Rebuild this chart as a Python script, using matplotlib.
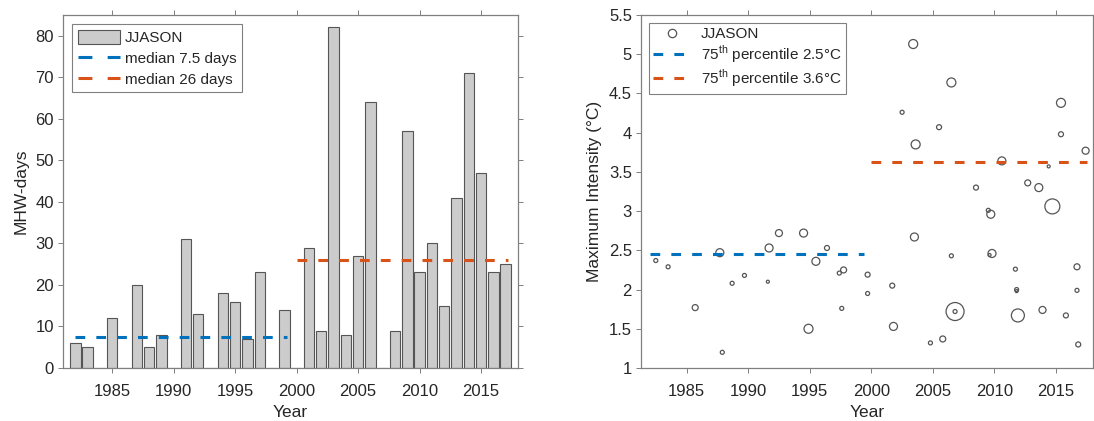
import numpy as np
import matplotlib
matplotlib.use('Agg')
import matplotlib.pyplot as plt
from matplotlib.patches import Patch
from matplotlib.lines import Line2D
from matplotlib.ticker import FormatStrFormatter

# MHW-days per year (JJASON)
years = np.arange(1982, 2018)
mhw_days = [6, 5, 0, 12, 0, 20, 5, 8, 0, 31, 13, 0, 18, 16, 7, 23, 0, 14,
            0, 29, 9, 82, 8, 27, 64, 0, 9, 57, 23, 30, 15, 41, 71, 47, 23, 25]

# individual events: time, max intensity, marker diameter (px)
event_time = [1982.5, 1983.5, 1985.7, 1987.7, 1987.9, 1988.7, 1989.7, 1991.6, 1991.7,
              1992.5, 1994.5, 1994.9, 1995.5, 1996.4, 1997.4, 1997.75, 1997.6, 1999.7,
              1999.7, 2001.7, 2001.8, 2002.5, 2003.4, 2003.6, 2003.5, 2004.8, 2005.5,
              2005.8, 2006.5, 2006.5, 2006.8, 2006.8, 2008.5, 2009.5, 2009.7, 2009.6,
              2009.8, 2010.6, 2011.7, 2011.8, 2011.8, 2011.9, 2012.7, 2013.6, 2013.9,
              2014.4, 2014.7, 2015.4, 2015.4, 2015.8, 2016.7, 2016.7, 2016.8, 2017.4]
event_imax = [2.37, 2.29, 1.77, 2.47, 1.20, 2.08, 2.18, 2.10, 2.53,
              2.72, 2.72, 1.50, 2.36, 2.53, 2.21, 2.25, 1.76, 2.19,
              1.95, 2.05, 1.53, 4.26, 5.13, 3.85, 2.67, 1.32, 4.07,
              1.37, 4.64, 2.43, 1.72, 1.72, 3.30, 3.01, 2.96, 2.44,
              2.46, 3.64, 2.26, 2.00, 1.98, 1.67, 3.36, 3.30, 1.74,
              3.57, 3.06, 4.38, 3.98, 1.67, 2.29, 1.99, 1.30, 3.77]
event_size = [4, 4, 6, 8, 4, 4, 4, 3, 8,
              7, 8, 9, 8, 5, 4, 6, 4, 5,
              4, 5, 8, 4, 9, 9, 8, 4, 5,
              6, 9, 4, 18, 4, 5, 4, 8, 3,
              8, 8, 4, 4, 3, 13, 6, 8, 7,
              3, 15, 9, 5, 5, 6, 4, 5, 7]

p75_early = 2.45
p75_late = 3.62

blue = '#0072BD'
orange = '#D95319'
grey_txt = '#262626'
grey_ax = '#808080'

plt.rcParams['font.family'] = ['Liberation Sans', 'DejaVu Sans']
plt.rcParams['mathtext.fontset'] = 'custom'
plt.rcParams['mathtext.rm'] = 'Liberation Sans'
plt.rcParams['lines.scale_dashes'] = False


def style_axes(ax):
    for s in ax.spines.values():
        s.set_color(grey_ax)
        s.set_linewidth(0.9)
    ax.tick_params(direction='out', length=3.5, width=0.7, color=grey_ax,
                   top=True, right=True, labelsize=12, labelcolor=grey_txt)
    ax.tick_params(axis='x', pad=8)
    ax.tick_params(axis='y', pad=3)
    ax.set_xticks(np.arange(1985, 2016, 5))


fig = plt.figure(figsize=(10.94, 4.21), dpi=100)

# left: MHW-days
ax1 = fig.add_axes([63 / 1094, 53 / 421, 455 / 1094, 353 / 421])
ax1.bar(years, mhw_days, width=0.85, color='#cccccc', edgecolor='#555555', linewidth=0.8)
med1 = np.median(mhw_days[:18])
med2 = np.median(mhw_days[18:])
ax1.plot([1982, 1999.2], [med1, med1], color=blue, lw=2.2, dashes=(7, 8))
ax1.plot([2000, 2017.2], [med2, med2], color=orange, lw=2.2, dashes=(7, 8))
ax1.set_xlim(1981, 2018)
ax1.set_ylim(0, 85)
ax1.set_yticks(np.arange(0, 81, 10))
style_axes(ax1)
ax1.set_xlabel('Year', fontsize=12.5, color=grey_txt, labelpad=4)
ax1.set_ylabel('MHW-days', fontsize=12.5, color=grey_txt, labelpad=5)
h1 = [Patch(facecolor='#cccccc', edgecolor='#555555', linewidth=0.8),
      Line2D([], [], color=blue, lw=2.2, dashes=(10, 11)),
      Line2D([], [], color=orange, lw=2.2, dashes=(10, 11))]
leg1 = ax1.legend(h1, ['JJASON', 'median 7.5 days', 'median 26 days'],
                  loc='upper left', fontsize=11, fancybox=False, framealpha=1,
                  edgecolor=grey_ax, handlelength=2.8, handleheight=1.1,
                  handletextpad=0.3, borderaxespad=0.6, labelspacing=0.35,
                  borderpad=0.35)
leg1.get_frame().set_linewidth(0.8)
for t in leg1.get_texts():
    t.set_color(grey_txt)

# right: maximum intensity
ax2 = fig.add_axes([641 / 1094, 53 / 421, 452 / 1094, 353 / 421])
ax2.scatter(event_time, event_imax, s=(np.array(event_size) * 0.72) ** 2,
            facecolors='none', edgecolors='#555555', linewidths=0.9)
ax2.plot([1982, 1999.4], [p75_early, p75_early], color=blue, lw=2.2, dashes=(7, 8))
ax2.plot([2000, 2017.5], [p75_late, p75_late], color=orange, lw=2.2, dashes=(7, 8))
ax2.set_xlim(1981.3, 2018)
ax2.set_ylim(1, 5.5)
ax2.set_yticks(np.arange(1, 5.51, 0.5))
ax2.yaxis.set_major_formatter(FormatStrFormatter('%g'))
style_axes(ax2)
ax2.set_xlabel('Year', fontsize=12.5, color=grey_txt, labelpad=4)
ax2.set_ylabel('Maximum Intensity (°C)', fontsize=12.5, color=grey_txt, labelpad=5)
h2 = [Line2D([], [], ls='none', marker='o', markersize=6, markerfacecolor='none',
             markeredgecolor='#555555', markeredgewidth=0.9),
      Line2D([], [], color=blue, lw=2.2, dashes=(7, 8)),
      Line2D([], [], color=orange, lw=2.2, dashes=(7, 8))]
leg2 = ax2.legend(h2, ['JJASON',
                       '75$^{\\mathrm{th}}$ percentile 2.5°C',
                       '75$^{\\mathrm{th}}$ percentile 3.6°C'],
                  loc='upper left', fontsize=11, fancybox=False, framealpha=1,
                  edgecolor=grey_ax, handlelength=2.4, handletextpad=0.7,
                  borderaxespad=0.5, labelspacing=0.15, borderpad=0.3)
leg2.get_frame().set_linewidth(0.8)
for t in leg2.get_texts():
    t.set_color(grey_txt)

fig.savefig('out.png', dpi=100)
